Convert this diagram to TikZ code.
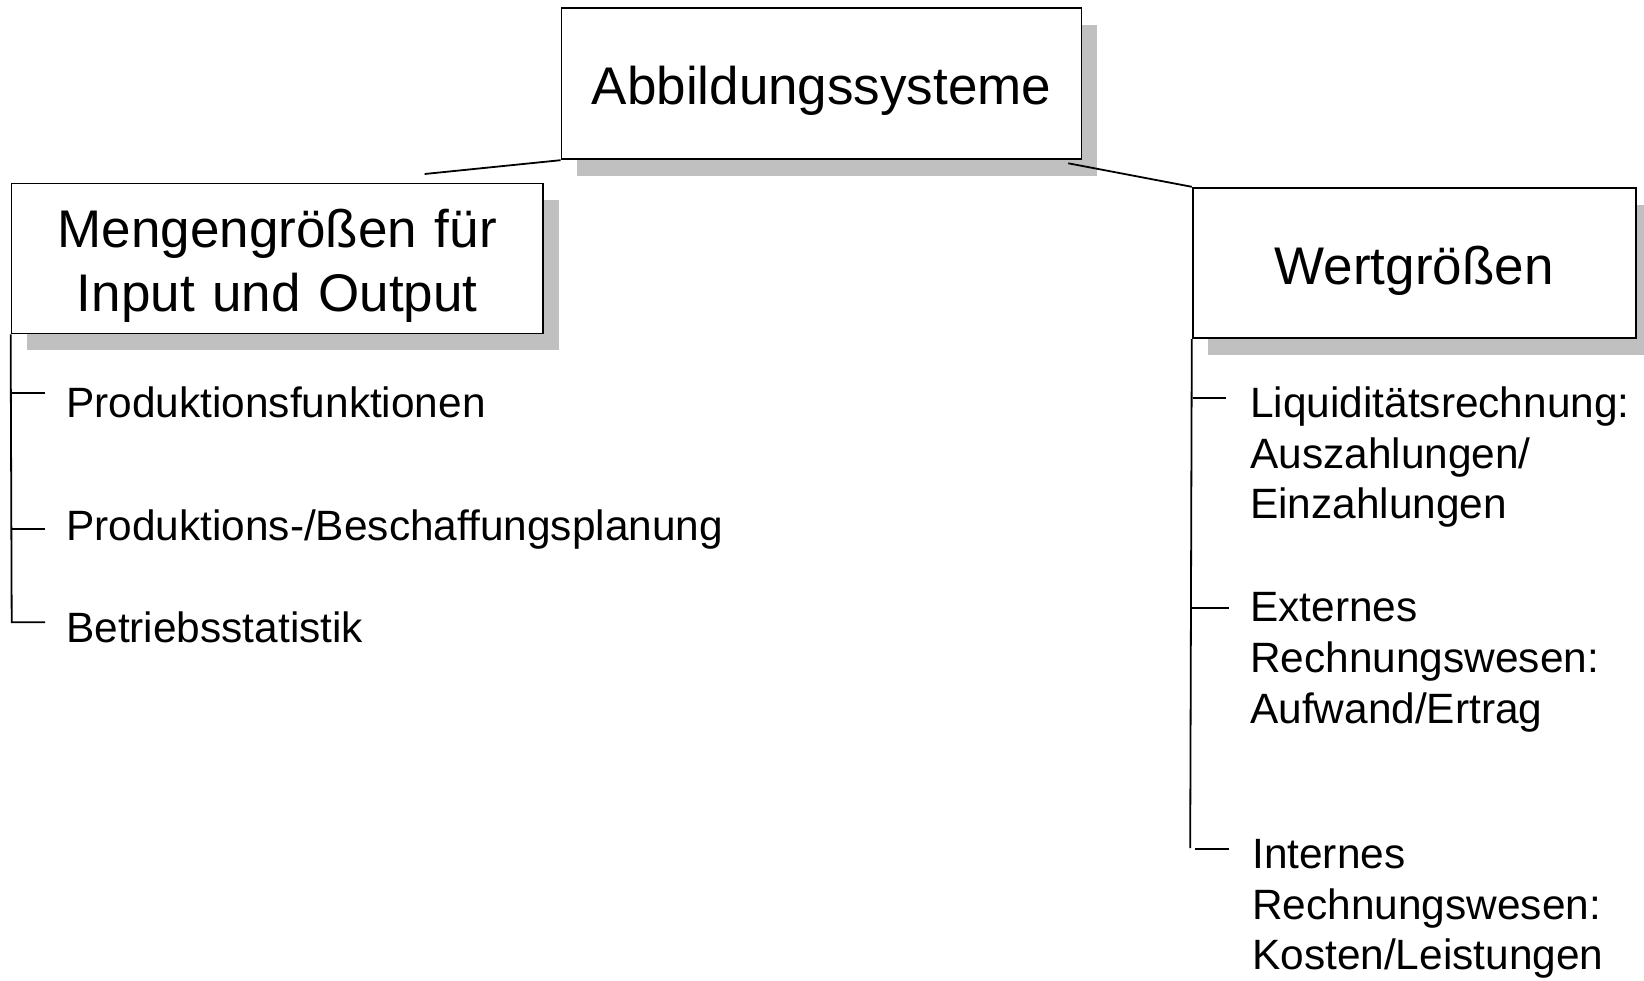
\documentclass[tikz,border=0pt]{standalone}
\usepackage{fontspec}
\setmainfont{Liberation Sans}
\usetikzlibrary{shadows}
\definecolor{shadowgray}{HTML}{C0C0C0}
\begin{document}
\begin{tikzpicture}[x=1pt,y=-1pt,
  box/.style={draw=black, line width=1.8pt, fill=white, inner sep=0pt,
    drop shadow={shadow xshift=15.5pt, shadow yshift=-17pt,
      fill=shadowgray, opacity=1}},
  boxtext/.style={inner sep=0pt, anchor=base, align=center, text width=520pt,
    font=\fontsize{53}{64}\selectfont},
  item/.style={inner sep=0pt, anchor=base west, align=left, text width=750pt,
    font=\fontsize{42.4}{50.8}\selectfont},
  conn/.style={draw=black, line width=1.8pt}]
\useasboundingbox (0,0) rectangle (1644,980);

% boxes
\node[box, minimum width=520pt, minimum height=151pt] (top) at (821.5,83.8) {};
\node[box, minimum width=531.5pt, minimum height=150pt] (left) at (277.3,258.4) {};
\node[box, minimum width=443pt, minimum height=150.6pt] (right) at (1414.2,263) {};

% box captions
\node[boxtext] (toptext) at (821.5,104) {Abbildungssysteme};
\node[boxtext] (lefttext) at (277.3,247.4) {Mengengrößen für\\Input und Output};
\node[boxtext] (righttext) at (1414.2,284) {Wertgrößen};

% links between the levels
\coordinate (lfree) at (424.6,174);
\coordinate (rfree) at (1068.3,163.3);
\draw[conn] (top.south west) -- (lfree);
\draw[conn] (rfree) -- (right.north west);

% left branch
\node[item] (l1) at (66,417.3) {Produktionsfunktionen};
\node[item] (l2) at (66,540.7) {Produktions-/Beschaffungsplanung};
\node[item] (l3) at (66,642.3) {Betriebsstatistik};
\coordinate (lt1) at (11.7,392.7);
\coordinate (lt2) at (11.7,529);
\coordinate (lt3) at (11.7,622.3);
\draw[conn] (left.south west) -- (lt3) -- ++(33.3,0);
\draw[conn] (lt1) -- ++(33.3,0);
\draw[conn] (lt2) -- ++(33.3,0);

% right branch
\node[item] (r1) at (1250,417.3) {Liquiditätsrechnung:\\Auszahlungen/\\Einzahlungen};
\node[item] (r2) at (1250,621.7) {Externes\\Rechnungswesen:\\Aufwand/Ertrag};
\node[item] (r3) at (1252,868.3) {Internes\\Rechnungswesen:\\Kosten/Leistungen};
\coordinate (rt1) at (1192.6,397.7);
\coordinate (rt2) at (1191.8,607.7);
\coordinate (rbot) at (1190.2,848);
\coordinate (rt3) at (1195,849);
\draw[conn] (right.south west) -- (rbot);
\draw[conn] (rt1) -- (1226,397.7);
\draw[conn] (rt2) -- (1229,607.7);
\draw[conn] (rt3) -- (1229,849);
\end{tikzpicture}
\end{document}
